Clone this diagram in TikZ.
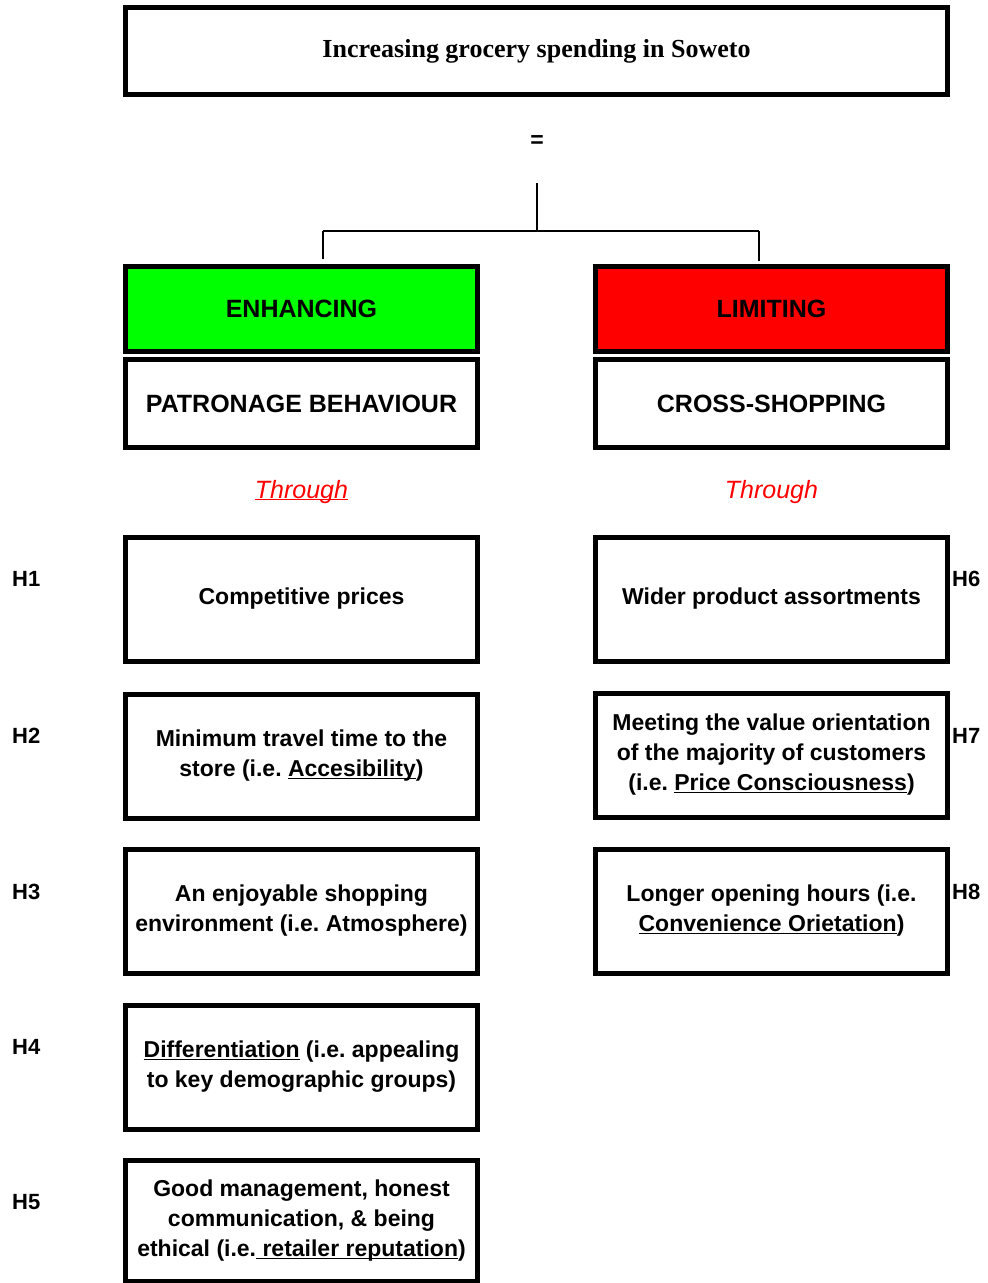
\documentclass[tikz,border=0pt]{standalone}
\usepackage{fontspec}
\setmainfont{Liberation Sans}
\newfontfamily\titleserif{Liberation Serif}
\usetikzlibrary{calc}
\newcommand\ulin[1]{\underline{\smash{#1}}}
\definecolor{enhgreen}{RGB}{0,255,0}
\definecolor{limred}{RGB}{255,0,0}
\frenchspacing
\begin{document}
\begin{tikzpicture}[x=1pt,y=-1pt,
  thickbox/.style={draw, line width=5pt, inner sep=0pt, align=center,
    minimum width=352pt, font=\bfseries\fontsize{23}{30}\selectfont},
  itembox/.style={thickbox, minimum height=124pt},
  headbox/.style={thickbox, font=\bfseries\fontsize{25}{30}\selectfont},
  hlabel/.style={anchor=west, inner sep=0pt, font=\bfseries\fontsize{22}{26}\selectfont},
  through/.style={inner sep=0pt, anchor=base, text=limred, font=\itshape\fontsize{25}{30}\selectfont},
  link/.style={line width=1.5pt}]
\useasboundingbox (0,0) rectangle (988,1283);

% title
\node[thickbox, minimum width=822pt, minimum height=87pt,
  font=\titleserif\bfseries\fontsize{26}{30}\selectfont] (title) at (536.5,51)
  {Increasing grocery spending in Soweto};
\node[inner sep=0pt, font=\bfseries\fontsize{23}{28}\selectfont] (eq) at (537,142) {=};

% header boxes
\node[headbox, fill=enhgreen, minimum height=85pt] (enh) at (301.5,309) {ENHANCING};
\node[headbox, minimum height=88pt] (pat) at (301.5,403.5) {PATRONAGE BEHAVIOUR};
\node[headbox, fill=limred, minimum height=85pt] (lim) at (771.5,309) {LIMITING};
\node[headbox, minimum height=88pt] (cross) at (771.5,403.5) {CROSS-SHOPPING};

% connectors
\coordinate (stem) at (537,183);
\coordinate (j) at (537,231);
\coordinate (jl) at (323,231);
\coordinate (jr) at (759,231);
\draw[link] (stem) -- (j);
\draw[link] (jl) -- (jr);
\draw[link, shorten >=5.5pt] (jl) -- (jl |- enh.north);
\draw[link, shorten >=3.5pt] (jr) -- (jr |- lim.north);

% through
\node[through] (thl) at (301.5,498) {\ulin{Through}};
\node[through] (thr) at (771.5,498) {Through};

% left column
\node[itembox] (b1) at (301.5,599) {Competitive prices};
\node[itembox] (b2) at (301.5,756) {Minimum travel time to the\\store (i.e. \ulin{Accesibility})};
\node[itembox] (b3) at (301.5,911) {An enjoyable shopping\\environment (i.e. Atmosphere)};
\node[itembox] (b4) at (301.5,1067) {\ulin{Differentiation} (i.e. appealing\\to key demographic groups)};
\node[itembox, minimum height=121pt] (b5) at (301.5,1221) {Good management, honest\\communication, \& being\\ethical (i.e.\ulin{ retailer reputation})};

% right column
\node[itembox] (b6) at (771.5,599) {Wider product assortments};
\node[itembox] (b7) at (771.5,755) {Meeting the value orientation\\of the majority of customers\\(i.e. \ulin{Price Consciousness})};
\node[itembox] (b8) at (771.5,911) {Longer opening hours (i.e.\\\ulin{Convenience Orietation})};

% hypothesis labels
\node[hlabel] (h1) at (12,579) {H1};
\node[hlabel] (h2) at (12,736) {H2};
\node[hlabel] (h3) at (12,892) {H3};
\node[hlabel] (h4) at (12,1047) {H4};
\node[hlabel] (h5) at (12,1202) {H5};
\node[hlabel] (h6) at (952,579) {H6};
\node[hlabel] (h7) at (952,736) {H7};
\node[hlabel] (h8) at (952,892) {H8};
\end{tikzpicture}
\end{document}
